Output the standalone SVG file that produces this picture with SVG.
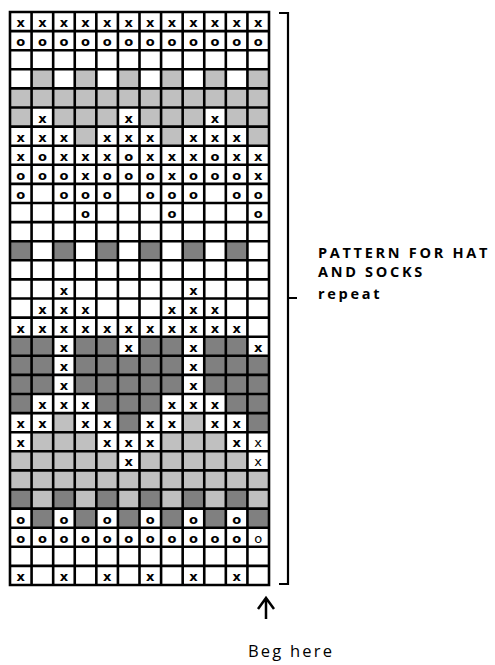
<svg xmlns="http://www.w3.org/2000/svg" width="495" height="665" viewBox="0 0 495 665">
<style>
.L{fill:#c0c0c0}
.D{fill:#808080}
.b{font-family:"DejaVu Sans",sans-serif;font-weight:bold;font-size:13px;text-anchor:middle;fill:#000}
.r{font-family:"DejaVu Sans",sans-serif;font-weight:normal;font-size:13px;text-anchor:middle;fill:#000}
.grid{fill:none;stroke:#000;stroke-width:2.6;stroke-linecap:square}
.br{fill:none;stroke:#000;stroke-width:2.2}
.ar{fill:none;stroke:#000;stroke-width:2.5}
.lab{font-family:"Open Sans",sans-serif;font-weight:bold;font-size:14.5px;letter-spacing:2.7px;fill:#000}
.beg{font-family:"Open Sans",sans-serif;font-size:16.5px;letter-spacing:2.2px;fill:#000}
</style>
<rect width="495" height="665" fill="#fff"/>
<g id="chart">
<g id="fills">
<g id="row4"><rect class="L" x="31.58" y="69.3" width="21.6" height="19.1"/><rect class="L" x="74.75" y="69.3" width="21.6" height="19.1"/><rect class="L" x="117.92" y="69.3" width="21.6" height="19.1"/><rect class="L" x="161.08" y="69.3" width="21.6" height="19.1"/><rect class="L" x="204.25" y="69.3" width="21.6" height="19.1"/><rect class="L" x="247.42" y="69.3" width="21.6" height="19.1"/></g>
<g id="row5"><rect class="L" x="10" y="88.4" width="259" height="19.1"/></g>
<g id="row6"><rect class="L" x="10" y="107.5" width="21.6" height="19.1"/><rect class="L" x="53.17" y="107.5" width="64.75" height="19.1"/><rect class="L" x="139.5" y="107.5" width="64.75" height="19.1"/><rect class="L" x="225.83" y="107.5" width="43.17" height="19.1"/></g>
<g id="row7"><rect class="L" x="74.75" y="126.6" width="21.6" height="19.1"/><rect class="L" x="161.08" y="126.6" width="21.6" height="19.1"/><rect class="L" x="247.42" y="126.6" width="21.6" height="19.1"/></g>
<g id="row13"><rect class="D" x="10" y="241.2" width="21.6" height="19.1"/><rect class="D" x="53.17" y="241.2" width="21.6" height="19.1"/><rect class="D" x="96.33" y="241.2" width="21.6" height="19.1"/><rect class="D" x="139.5" y="241.2" width="21.6" height="19.1"/><rect class="D" x="182.67" y="241.2" width="21.6" height="19.1"/><rect class="D" x="225.83" y="241.2" width="21.6" height="19.1"/></g>
<g id="row18"><rect class="D" x="10" y="336.7" width="43.17" height="19.1"/><rect class="D" x="74.75" y="336.7" width="43.17" height="19.1"/><rect class="D" x="139.5" y="336.7" width="43.17" height="19.1"/><rect class="D" x="204.25" y="336.7" width="43.17" height="19.1"/></g>
<g id="row19"><rect class="D" x="10" y="355.8" width="43.17" height="19.1"/><rect class="D" x="74.75" y="355.8" width="107.92" height="19.1"/><rect class="D" x="204.25" y="355.8" width="64.75" height="19.1"/></g>
<g id="row20"><rect class="D" x="10" y="374.9" width="43.17" height="19.1"/><rect class="D" x="74.75" y="374.9" width="107.92" height="19.1"/><rect class="D" x="204.25" y="374.9" width="64.75" height="19.1"/></g>
<g id="row21"><rect class="D" x="10" y="394" width="21.6" height="19.1"/><rect class="D" x="96.33" y="394" width="64.75" height="19.1"/><rect class="D" x="225.83" y="394" width="43.17" height="19.1"/></g>
<g id="row22"><rect class="L" x="53.17" y="413.1" width="21.6" height="19.1"/><rect class="D" x="117.92" y="413.1" width="21.6" height="19.1"/><rect class="L" x="182.67" y="413.1" width="21.6" height="19.1"/><rect class="D" x="247.42" y="413.1" width="21.6" height="19.1"/></g>
<g id="row23"><rect class="L" x="31.58" y="432.2" width="64.75" height="19.1"/><rect class="L" x="161.08" y="432.2" width="64.75" height="19.1"/></g>
<g id="row24"><rect class="L" x="10" y="451.3" width="107.92" height="19.1"/><rect class="L" x="139.5" y="451.3" width="107.92" height="19.1"/></g>
<g id="row25"><rect class="L" x="10" y="470.4" width="259" height="19.1"/></g>
<g id="row26"><rect class="L" x="10" y="489.5" width="259" height="19.1"/><rect class="D" x="10" y="489.5" width="21.6" height="19.1"/><rect class="D" x="53.17" y="489.5" width="21.6" height="19.1"/><rect class="D" x="96.33" y="489.5" width="21.6" height="19.1"/><rect class="D" x="139.5" y="489.5" width="21.6" height="19.1"/><rect class="D" x="182.67" y="489.5" width="21.6" height="19.1"/><rect class="D" x="225.83" y="489.5" width="21.6" height="19.1"/></g>
<g id="row27"><rect class="D" x="31.58" y="508.6" width="21.6" height="19.1"/><rect class="D" x="74.75" y="508.6" width="21.6" height="19.1"/><rect class="D" x="117.92" y="508.6" width="21.6" height="19.1"/><rect class="D" x="161.08" y="508.6" width="21.6" height="19.1"/><rect class="D" x="204.25" y="508.6" width="21.6" height="19.1"/><rect class="D" x="247.42" y="508.6" width="21.6" height="19.1"/></g>
</g>
<g id="marks">
<text class="b" x="20.8 42.4 64 85.5 107.1 128.7 150.3 171.9 193.5 215 236.6 258.2" y="27.1">xxxxxxxxxxxx</text>
<text class="b" x="20.8 42.4 64 85.5 107.1 128.7 150.3 171.9 193.5 215 236.6 258.2" y="46.2">oooooooooooo</text>
<text class="b" x="42.4 128.7 215" y="122.6">xxx</text>
<text class="b" x="20.8 42.4 64 107.1 128.7 150.3 193.5 215 236.6" y="141.7">xxxxxxxxx</text>
<text class="b" x="20.8 42.4 64 85.5 107.1 128.7 150.3 171.9 193.5 215 236.6 258.2" y="160.8">xoxxxoxxxoxx</text>
<text class="b" x="20.8 42.4 64 85.5 107.1 128.7 150.3 171.9 193.5 215 236.6 258.2" y="179.9">oooxoooxooox</text>
<text class="b" x="20.8 64 85.5 107.1 150.3 171.9 193.5 236.6 258.2" y="199">ooooooooo</text>
<text class="b" x="85.5 171.9 258.2" y="218.1">ooo</text>
<text class="b" x="64 193.5" y="294.5">xx</text>
<text class="b" x="42.4 64 85.5 171.9 193.5 215" y="313.6">xxxxxx</text>
<text class="b" x="20.8 42.4 64 85.5 107.1 128.7 150.3 171.9 193.5 215 236.6" y="332.7">xxxxxxxxxxx</text>
<text class="b" x="64 128.7 193.5 258.2" y="351.8">xxxx</text>
<text class="b" x="64 193.5" y="370.9">xx</text>
<text class="b" x="64 193.5" y="390">xx</text>
<text class="b" x="42.4 64 85.5 171.9 193.5 215" y="409.1">xxxxxx</text>
<text class="b" x="20.8 42.4 85.5 107.1 150.3 171.9 215 236.6" y="428.2">xxxxxxxx</text>
<text class="b" x="20.8 107.1 128.7 150.3 236.6" y="447.3">xxxxx</text>
<text class="r" x="258.2" y="447.3">x</text>
<text class="b" x="128.7" y="466.4">x</text>
<text class="r" x="258.2" y="466.4">x</text>
<text class="b" x="20.8 64 107.1 150.3 193.5 236.6" y="523.7">oooooo</text>
<text class="b" x="20.8 42.4 64 85.5 107.1 128.7 150.3 171.9 193.5 215 236.6" y="542.8">ooooooooooo</text>
<text class="r" x="258.2" y="542.8">o</text>
<text class="b" x="20.8 64 107.1 150.3 193.5 236.6" y="581">xxxxxx</text>
</g>
<path class="grid" d="M10 12V585M31.58 12V585M53.17 12V585M74.75 12V585M96.33 12V585M117.92 12V585M139.5 12V585M161.08 12V585M182.67 12V585M204.25 12V585M225.83 12V585M247.42 12V585M269 12V585M10 12H269M10 31.1H269M10 50.2H269M10 69.3H269M10 88.4H269M10 107.5H269M10 126.6H269M10 145.7H269M10 164.8H269M10 183.9H269M10 203H269M10 222.1H269M10 241.2H269M10 260.3H269M10 279.4H269M10 298.5H269M10 317.6H269M10 336.7H269M10 355.8H269M10 374.9H269M10 394H269M10 413.1H269M10 432.2H269M10 451.3H269M10 470.4H269M10 489.5H269M10 508.6H269M10 527.7H269M10 546.8H269M10 565.9H269M10 585H269"/>
</g>
<g id="connectors">
<path class="br" d="M279 13H288V584H279M288 298H297"/>
<path class="ar" d="M258 609L266 598L274 609M266 598V619"/>
</g>
<g id="label">
<text class="lab" x="318" y="257.5">PATTERN FOR HAT</text>
<text class="lab" x="318" y="277">AND SOCKS</text>
<text class="lab" x="318" y="299">repeat</text>
</g>
<g id="start">
<text class="beg" x="248" y="657">Beg here</text>
</g>
</svg>
